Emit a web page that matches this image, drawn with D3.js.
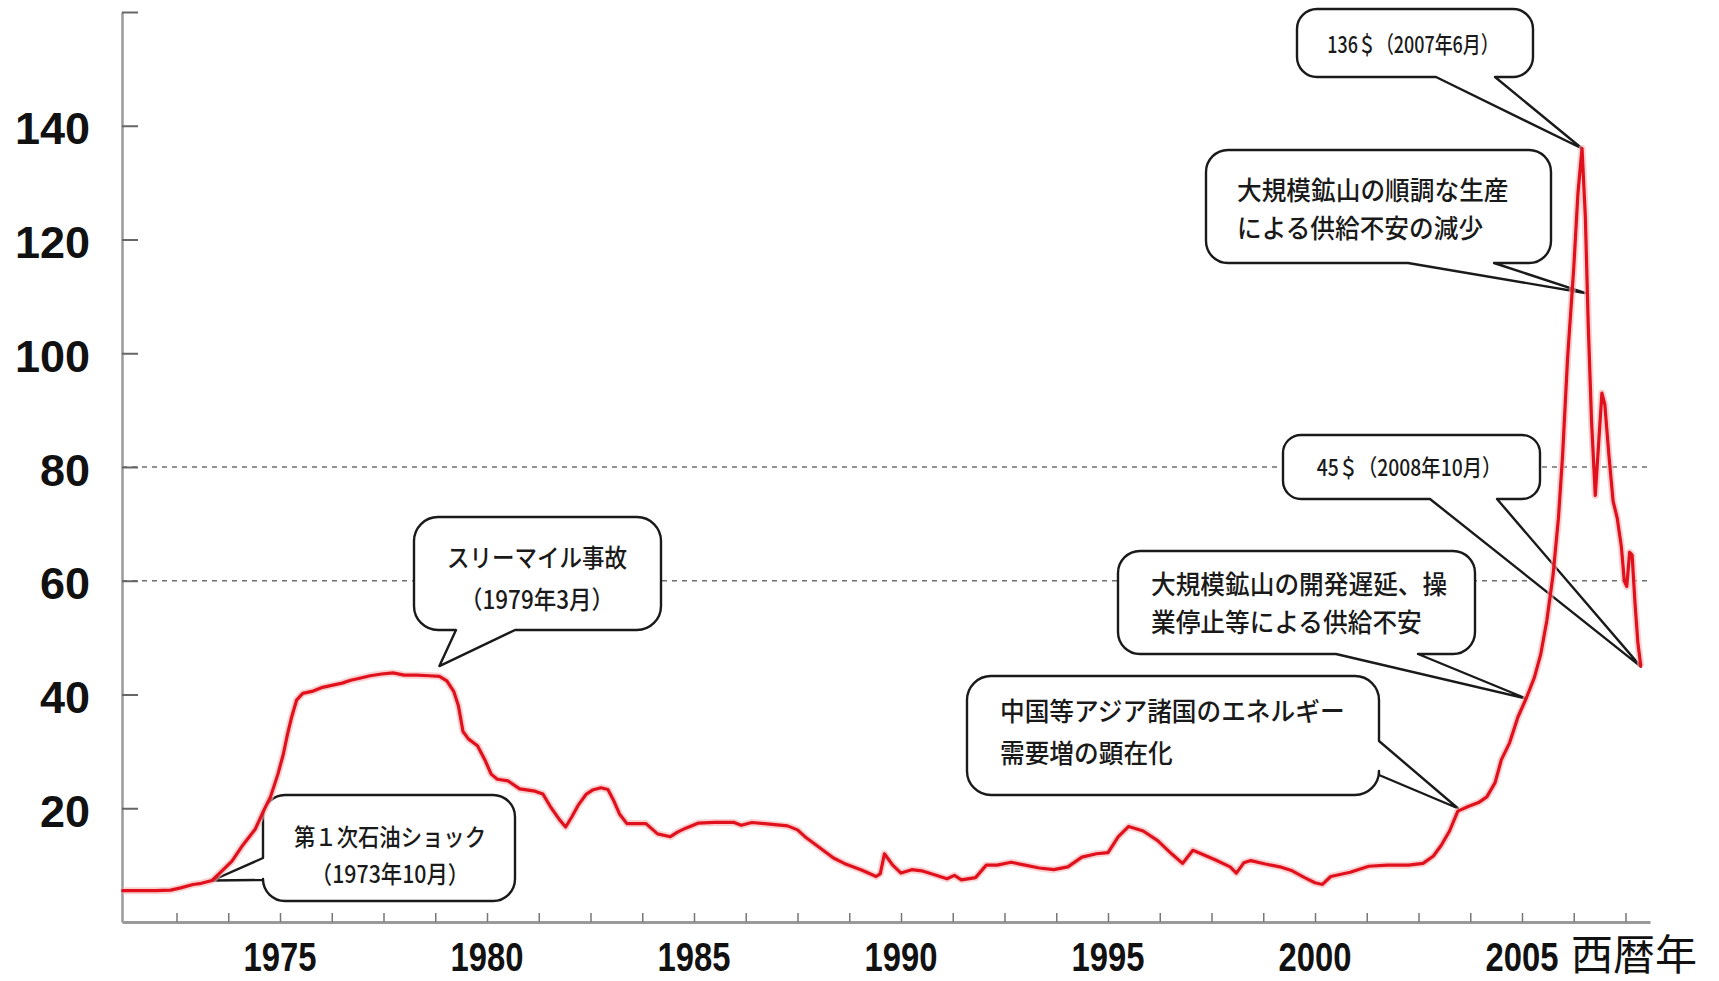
<!DOCTYPE html>
<html><head><meta charset="utf-8">
<script src="https://cdn.jsdelivr.net/npm/d3@7"></script>
<style>body{margin:0;background:#fff}svg{display:block}</style>
</head><body>
<svg id="c" width="1719" height="981"></svg>
<script>
// ---- data (axis year, uranium spot price $/lb) ----
const years = [1971.20,1971.6,1972.0,1972.36,1972.6,1972.9,1973.1,1973.36,1973.6,1973.84,1974.1,1974.4,1974.6,1974.77,1974.95,1975.08,1975.18,1975.28,1975.4,1975.55,1975.8,1976.0,1976.25,1976.5,1976.71,1976.95,1977.18,1977.45,1977.73,1978.0,1978.3,1978.6,1978.85,1979.03,1979.2,1979.31,1979.42,1979.55,1979.77,1979.95,1980.1,1980.25,1980.51,1980.79,1981.16,1981.35,1981.53,1981.75,1981.9,1982.05,1982.2,1982.4,1982.55,1982.75,1982.92,1983.05,1983.2,1983.38,1983.84,1984.12,1984.43,1984.6,1984.8,1985.11,1985.5,1985.97,1986.14,1986.40,1986.83,1987.26,1987.5,1987.68,1988.03,1988.37,1988.63,1989.06,1989.4,1989.5,1989.6,1989.7,1989.8,1990.0,1990.26,1990.5,1990.77,1991.11,1991.29,1991.46,1991.80,1992.06,1992.32,1992.66,1993.0,1993.34,1993.69,1994.03,1994.37,1994.72,1995.0,1995.25,1995.5,1995.85,1996.2,1996.55,1996.8,1997.05,1997.25,1997.6,1997.95,1998.1,1998.28,1998.45,1998.8,1999.15,1999.45,1999.75,2000.0,2000.18,2000.38,2000.85,2001.3,2001.75,2002.26,2002.61,2002.86,2003.05,2003.25,2003.45,2003.7,2003.95,2004.15,2004.35,2004.5,2004.7,2004.9,2005.1,2005.3,2005.45,2005.6,2005.75,2005.88,2005.98,2006.1,2006.25,2006.35,2006.45,2006.53,2006.6,2006.68,2006.77,2006.85,2006.93,2007.0,2007.1,2007.2,2007.3,2007.4,2007.47,2007.53,2007.6,2007.66,2007.73,2007.8,2007.87];
const prices = [5.5,5.5,5.5,5.6,6.0,6.6,6.8,7.3,9.0,10.7,13.5,16.3,19.5,22,26,29.5,33,36,39,40.2,40.6,41.2,41.6,42.0,42.5,42.9,43.3,43.6,43.8,43.4,43.4,43.3,43.2,42.4,40.5,38,33.5,32.2,31.0,28.5,26,25.1,24.8,23.4,23.0,22.5,20.3,18,16.7,18.5,20.5,22.5,23.2,23.6,23.3,21.5,19,17.3,17.3,15.5,15.0,15.8,16.5,17.4,17.5,17.5,17.0,17.5,17.2,16.9,16.2,15.0,13.1,11.25,10.3,9.1,8.0,8.5,12.0,11.0,10.0,8.6,9.2,9.0,8.4,7.6,8.2,7.4,7.8,10.0,10.0,10.5,10.0,9.5,9.2,9.7,11.4,12.0,12.2,15.0,16.8,16.0,14.3,11.9,10.3,12.6,12.0,10.9,9.7,8.6,10.4,10.8,10.2,9.7,9.0,7.8,6.9,6.6,8.0,8.75,9.8,10.0,10.0,10.3,11.6,13.5,16.0,19.5,20.3,21,22,24.5,28.5,31.5,36,39.3,43,47,53,61,71,82,99,115,128,136,124,105,88,75,84,93,91,82,74,71,66,60,59,65,64.5,56,49,45];

const yTickValues = [20,40,60,80,100,120,140,160];
const yLabelValues = [20,40,60,80,100,120,140];
const gridValues = [60,80];
const xLabelYears = [1975,1980,1985,1990,1995,2000,2005];
const xTickStep = 1.25;
const xAxisTitle = "西暦年";

const calloutLines = [
  ["136＄（2007年6月）"],
  ["大規模鉱山の順調な生産","による供給不安の減少"],
  ["45＄（2008年10月）"],
  ["大規模鉱山の開発遅延、操","業停止等による供給不安"],
  ["中国等アジア諸国のエネルギー","需要増の顕在化"],
  ["スリーマイル事故","（1979年3月）"],
  ["第１次石油ショック","（1973年10月）"]
];
const calloutYears  = [2006.45, 2006.52, 2007.87, 2005.1, 2003.45, 1978.85, 1973.36];
const calloutValues = [136, 110.6, 44.9, 39.3, 20.0, 45, 7.3];

// ---- layout ----
const boxLayout = [
  {x:1297,y:9,w:236,h:68,r:20,side:'bottom',base:[1436,1495],anchor:'middle',tx:1413,ty:[43],fs:23,sx:0.78},
  {x:1206,y:150,w:345,h:113,r:22,side:'bottom',base:[1408,1494],anchor:'start',tx:1237,ty:[189,227],fs:26,sx:0.95},
  {x:1283,y:435,w:257,h:64,r:18,side:'bottom',base:[1430,1497],anchor:'middle',tx:1409,ty:[466],fs:23,sx:0.84},
  {x:1118,y:551,w:357,h:103,r:22,side:'bottom',base:[1336,1418],anchor:'start',tx:1151,ty:[583,621],fs:26,sx:0.95},
  {x:967,y:676,w:412,h:119,r:24,side:'right',base:[741,775],anchor:'start',tx:1000,ty:[710,752],fs:26,sx:0.95},
  {x:414,y:517,w:247,h:113,r:24,side:'bottom',base:[456,515],anchor:'middle',tx:537,ty:[556,598],fs:25,sx:0.9},
  {x:263,y:795,w:252,h:106,r:22,side:'left',base:[858,880],anchor:'middle',tx:390,ty:[836,873],fs:24,sx:0.89}
];

const svg = d3.select("#c");
const x0 = d3.scaleLinear().domain([1975,2005]).range([280,1522]);
const x = x0.copy().domain([x0.invert(122), x0.invert(1650)]).range([122,1650]);
const y = d3.scaleLinear().domain([0,160]).range([922,12]);
const [xa, xb] = x.domain();

// grid lines
svg.append("g").selectAll("line").data(gridValues).join("line")
  .attr("x1", x(xa)).attr("x2", x(xb))
  .attr("y1", d=>y(d)).attr("y2", d=>y(d))
  .attr("stroke","#6f6f6f").attr("stroke-width",1.6).attr("stroke-dasharray","5,5");

// axes
const xTicks = d3.range(1972.5, xb, xTickStep);
const gx = svg.append("g").attr("transform",`translate(0,${y(0)})`)
  .call(d3.axisBottom(x).tickValues(xTicks).tickSize(-9).tickSizeOuter(0).tickFormat(""));
gx.select(".domain").attr("stroke","#9a9a9a").attr("stroke-width",3);
gx.selectAll(".tick line").attr("stroke","#777").attr("stroke-width",1.5);

const gy = svg.append("g").attr("transform",`translate(${x(xa)},0)`)
  .call(d3.axisLeft(y).tickValues(yTickValues).tickSize(-16).tickSizeOuter(0).tickFormat(""));
gy.select(".domain").attr("stroke","#9a9a9a").attr("stroke-width",2.5);
gy.selectAll(".tick line").attr("stroke","#666").attr("stroke-width",2);

// labels
svg.append("g").selectAll("text").data(yLabelValues).join("text")
  .attr("x", 90).attr("y", d=>y(d)+3)
  .attr("text-anchor","end").attr("dominant-baseline","central")
  .attr("font-family","'Liberation Sans', Arial, sans-serif").attr("font-weight","bold")
  .attr("font-size",45).attr("fill","#111").text(d=>d);

svg.append("g").selectAll("text").data(xLabelYears).join("text")
  .attr("transform", d=>`translate(${x(d)},971) scale(0.8,1)`)
  .attr("text-anchor","middle")
  .attr("font-family","'Liberation Sans', Arial, sans-serif").attr("font-weight","bold")
  .attr("font-size",41).attr("fill","#111").text(d=>d);

svg.append("text").attr("x",1571).attr("y",970)
  .attr("font-family","'Noto Sans CJK JP', sans-serif").attr("font-size",42).attr("fill","#111")
  .text(xAxisTitle);

// callouts
function calloutPath(b, tip){
  const {x:bx,y:by,w,h,r,side,base} = b;
  const p = d3.path();
  p.moveTo(bx+r,by);
  p.lineTo(bx+w-r,by);
  p.arcTo(bx+w,by,bx+w,by+r,r);
  if(side==='right'){ p.lineTo(bx+w,base[0]); p.lineTo(tip[0],tip[1]); p.lineTo(bx+w,base[1]); }
  p.lineTo(bx+w,by+h-r);
  p.arcTo(bx+w,by+h,bx+w-r,by+h,r);
  if(side==='bottom'){ p.lineTo(base[1],by+h); p.lineTo(tip[0],tip[1]); p.lineTo(base[0],by+h); }
  p.lineTo(bx+r,by+h);
  p.arcTo(bx,by+h,bx,by+h-r,r);
  if(side==='left'){ p.lineTo(bx,base[1]); p.lineTo(tip[0],tip[1]); p.lineTo(bx,base[0]); }
  p.lineTo(bx,by+r);
  p.arcTo(bx,by,bx+r,by,r);
  p.closePath();
  return p.toString();
}

const series = years.map((yr,i)=>[yr, prices[i]]);
const line = d3.line().x(d=>x(d[0])).y(d=>y(d[1]));

const cg = svg.append("g");
boxLayout.forEach((b,i)=>{
  const tip = [x(calloutYears[i]), y(calloutValues[i])];
  cg.append("path").attr("d", calloutPath(b, tip))
    .attr("fill","#fff").attr("stroke","#1a1a1a").attr("stroke-width",2.4).attr("stroke-linejoin","round");
  calloutLines[i].forEach((t,j)=>{
    cg.append("text")
      .attr("transform",`translate(${b.tx},${b.ty[j]}) scale(${b.sx},1)`)
      .attr("text-anchor", b.anchor).attr("dominant-baseline","central")
      .attr("font-family","'Noto Sans CJK JP', sans-serif").attr("font-weight",500).attr("font-size", b.fs)
      .attr("fill","#1a1a1a").text(t);
  });
});

// price line
svg.append("path").datum(series).attr("d", line)
  .attr("fill","none").attr("stroke","#f5b3b3").attr("stroke-width",7).attr("stroke-opacity",0.6)
  .attr("stroke-linejoin","round");
svg.append("path").datum(series).attr("d", line)
  .attr("fill","none").attr("stroke","#e0101c").attr("stroke-width",3.2)
  .attr("stroke-linejoin","round").attr("stroke-linecap","round");
</script>
</body></html>
